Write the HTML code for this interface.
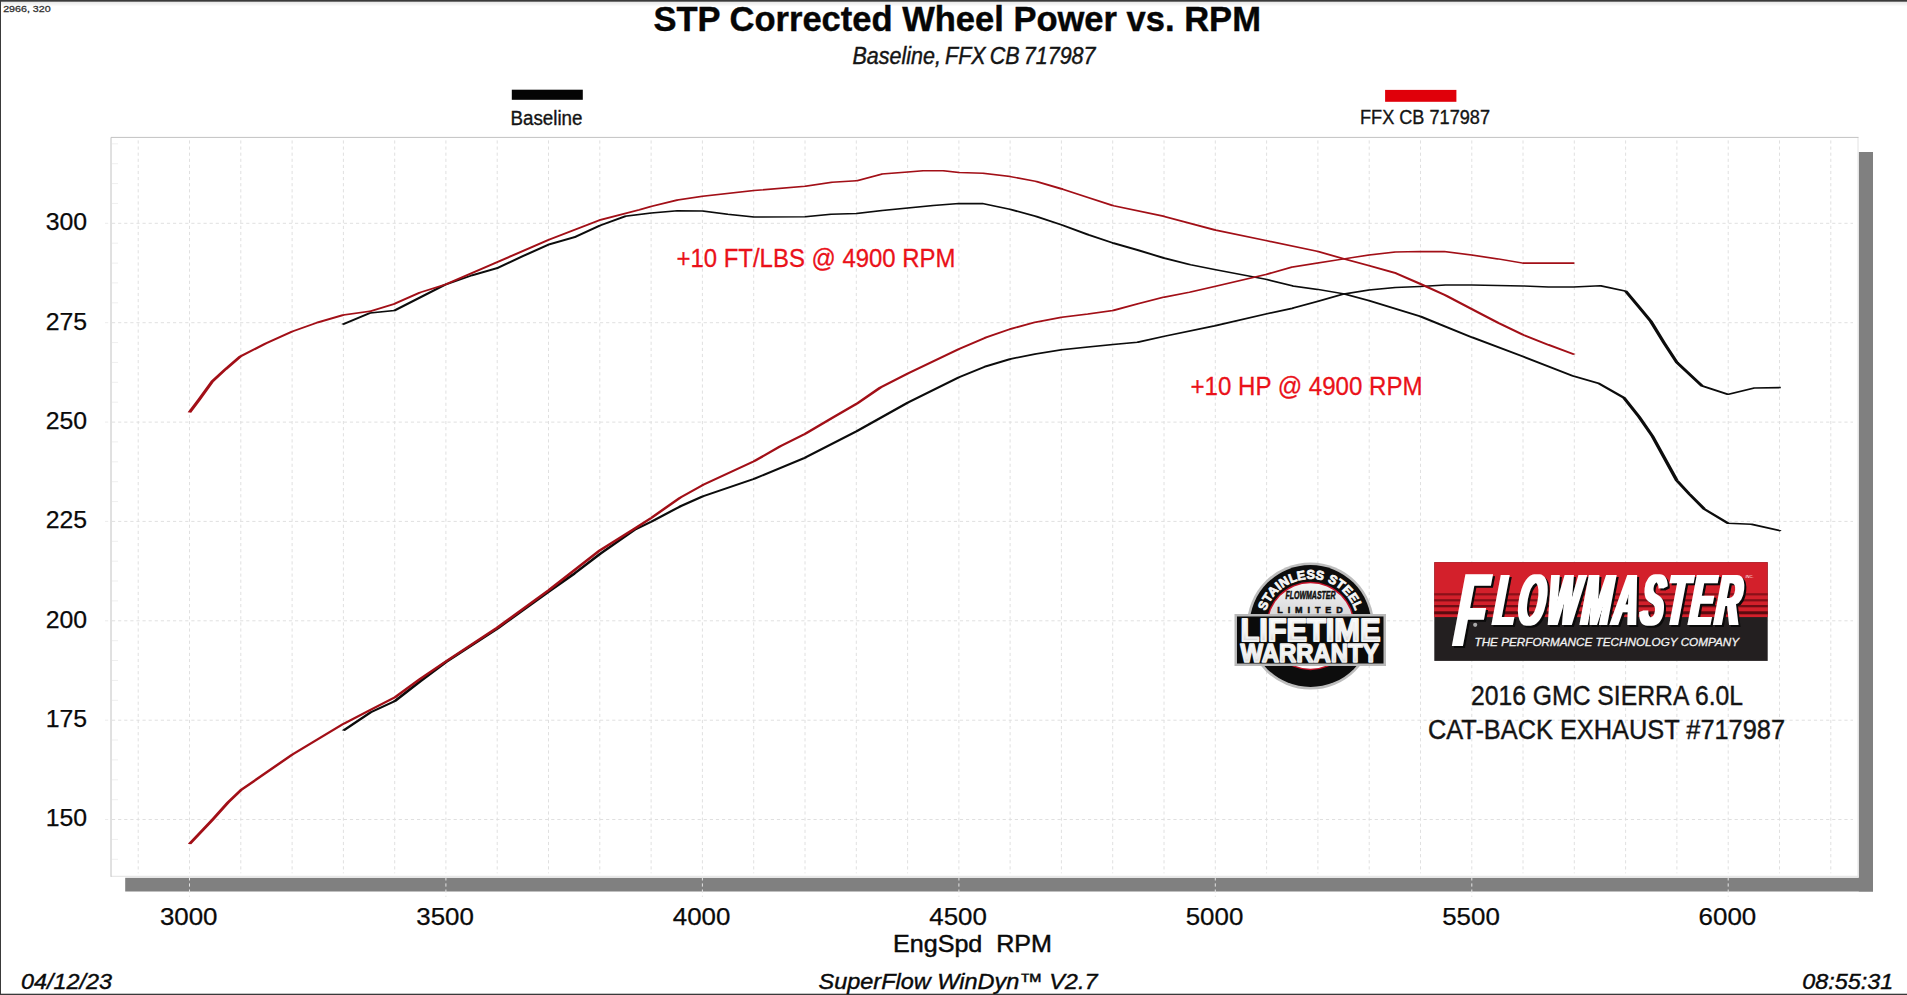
<!DOCTYPE html>
<html lang="en"><head><meta charset="utf-8"><title>STP Corrected Wheel Power vs. RPM</title>
<style>
html,body{margin:0;padding:0;background:#fff;}
body{width:1907px;height:995px;overflow:hidden;font-family:"Liberation Sans",sans-serif;}
svg{display:block;}
text{font-family:"Liberation Sans",sans-serif;}
.lbl{font-size:24.8px;fill:#0a0a0a;stroke:#0a0a0a;stroke-width:0.25;}
.it{font-style:italic;}
.my{fill:#141414;}
.red{fill:#ea1119;stroke:#ea1119;stroke-width:0.3;}
.grid line{stroke:#e0e0e0;stroke-width:1;stroke-dasharray:3.2 2.9;}
</style></head><body>
<svg width="1907" height="995" viewBox="0 0 1907 995">
<defs>
<linearGradient id="topg" x1="0" y1="0" x2="0" y2="1"><stop offset="0" stop-color="#e6e6e6"/><stop offset="1" stop-color="#ffffff"/></linearGradient>
<linearGradient id="silver" x1="0" y1="0" x2="0" y2="1"><stop offset="0" stop-color="#f4f4f4"/><stop offset="0.4" stop-color="#d6d6d8"/><stop offset="1" stop-color="#ffffff"/></linearGradient>
<linearGradient id="chrome" x1="0" y1="0" x2="0" y2="1"><stop offset="0" stop-color="#ffffff"/><stop offset="0.55" stop-color="#f4f4f4"/><stop offset="1" stop-color="#c4c4c4"/></linearGradient>
<filter id="fat" x="-5%" y="-10%" width="112%" height="125%" color-interpolation-filters="sRGB"><feMorphology in="SourceGraphic" operator="dilate" radius="2.1 0" result="a"/><feOffset in="a" dx="2.4" dy="2" result="o"/><feColorMatrix in="o" type="matrix" values="0 0 0 0 0.04  0 0 0 0 0.04  0 0 0 0 0.04  0 0 0 1 0" result="s"/><feMerge><feMergeNode in="s"/><feMergeNode in="a"/></feMerge></filter>
<path id="arc" d="M 1263.3 626 A 47.2 47.2 0 0 1 1357.7 626"/>
</defs>
<rect x="0" y="0" width="1907" height="995" fill="#ffffff"/>
<rect x="0" y="1.5" width="1907" height="5" fill="url(#topg)"/>
<rect x="0" y="0" width="1907" height="1.7" fill="#3a3a3a"/>
<rect x="0" y="0" width="1" height="995" fill="#3a3a3a"/>
<rect x="0" y="993.7" width="1907" height="1.3" fill="#3a3a3a"/>
<rect x="1858.8" y="152" width="14.2" height="739.5" fill="#808080"/>
<rect x="125.2" y="877.8" width="1747.8" height="13.7" fill="#808080"/>
<rect x="111.0" y="137.4" width="1747.0" height="738.9" fill="#ffffff"/>
<path d="M111.0 876.3 L1858.0 876.3 L1858.0 137.4" fill="none" stroke="#e2e2e2" stroke-width="1"/>
<path d="M111.0 876.8 L111.0 137.4 L1858.5 137.4" fill="none" stroke="#c2c2c2" stroke-width="1"/>
<g class="grid">
<line x1="138.2" y1="140.4" x2="138.2" y2="873.3"/>
<line x1="189.5" y1="140.4" x2="189.5" y2="873.3"/>
<line x1="189.5" y1="877.3" x2="189.5" y2="897" style="stroke:#e4e4e4"/>
<line x1="240.8" y1="140.4" x2="240.8" y2="873.3"/>
<line x1="292.1" y1="140.4" x2="292.1" y2="873.3"/>
<line x1="343.4" y1="140.4" x2="343.4" y2="873.3"/>
<line x1="394.7" y1="140.4" x2="394.7" y2="873.3"/>
<line x1="445.9" y1="140.4" x2="445.9" y2="873.3"/>
<line x1="445.9" y1="877.3" x2="445.9" y2="897" style="stroke:#e4e4e4"/>
<line x1="497.2" y1="140.4" x2="497.2" y2="873.3"/>
<line x1="548.5" y1="140.4" x2="548.5" y2="873.3"/>
<line x1="599.8" y1="140.4" x2="599.8" y2="873.3"/>
<line x1="651.1" y1="140.4" x2="651.1" y2="873.3"/>
<line x1="702.4" y1="140.4" x2="702.4" y2="873.3"/>
<line x1="702.4" y1="877.3" x2="702.4" y2="897" style="stroke:#e4e4e4"/>
<line x1="753.7" y1="140.4" x2="753.7" y2="873.3"/>
<line x1="805.0" y1="140.4" x2="805.0" y2="873.3"/>
<line x1="856.3" y1="140.4" x2="856.3" y2="873.3"/>
<line x1="907.6" y1="140.4" x2="907.6" y2="873.3"/>
<line x1="958.9" y1="140.4" x2="958.9" y2="873.3"/>
<line x1="958.9" y1="877.3" x2="958.9" y2="897" style="stroke:#e4e4e4"/>
<line x1="1010.1" y1="140.4" x2="1010.1" y2="873.3"/>
<line x1="1061.4" y1="140.4" x2="1061.4" y2="873.3"/>
<line x1="1112.7" y1="140.4" x2="1112.7" y2="873.3"/>
<line x1="1164.0" y1="140.4" x2="1164.0" y2="873.3"/>
<line x1="1215.3" y1="140.4" x2="1215.3" y2="873.3"/>
<line x1="1215.3" y1="877.3" x2="1215.3" y2="897" style="stroke:#e4e4e4"/>
<line x1="1266.6" y1="140.4" x2="1266.6" y2="873.3"/>
<line x1="1317.9" y1="140.4" x2="1317.9" y2="873.3"/>
<line x1="1369.2" y1="140.4" x2="1369.2" y2="873.3"/>
<line x1="1420.5" y1="140.4" x2="1420.5" y2="873.3"/>
<line x1="1471.8" y1="140.4" x2="1471.8" y2="873.3"/>
<line x1="1471.8" y1="877.3" x2="1471.8" y2="897" style="stroke:#e4e4e4"/>
<line x1="1523.0" y1="140.4" x2="1523.0" y2="873.3"/>
<line x1="1574.3" y1="140.4" x2="1574.3" y2="873.3"/>
<line x1="1625.6" y1="140.4" x2="1625.6" y2="873.3"/>
<line x1="1676.9" y1="140.4" x2="1676.9" y2="873.3"/>
<line x1="1728.2" y1="140.4" x2="1728.2" y2="873.3"/>
<line x1="1728.2" y1="877.3" x2="1728.2" y2="897" style="stroke:#e4e4e4"/>
<line x1="1779.5" y1="140.4" x2="1779.5" y2="873.3"/>
<line x1="1830.8" y1="140.4" x2="1830.8" y2="873.3"/>
<line x1="105.0" y1="819.5" x2="111.0" y2="819.5" style="stroke:#ececec"/>
<line x1="112.0" y1="819.5" x2="1853.0" y2="819.5"/>
<line x1="105.0" y1="720.2" x2="111.0" y2="720.2" style="stroke:#ececec"/>
<line x1="112.0" y1="720.2" x2="1853.0" y2="720.2"/>
<line x1="105.0" y1="620.8" x2="111.0" y2="620.8" style="stroke:#ececec"/>
<line x1="112.0" y1="620.8" x2="1853.0" y2="620.8"/>
<line x1="105.0" y1="521.4" x2="111.0" y2="521.4" style="stroke:#ececec"/>
<line x1="112.0" y1="521.4" x2="1853.0" y2="521.4"/>
<line x1="105.0" y1="422.1" x2="111.0" y2="422.1" style="stroke:#ececec"/>
<line x1="112.0" y1="422.1" x2="1853.0" y2="422.1"/>
<line x1="105.0" y1="322.7" x2="111.0" y2="322.7" style="stroke:#ececec"/>
<line x1="112.0" y1="322.7" x2="1853.0" y2="322.7"/>
<line x1="105.0" y1="223.3" x2="111.0" y2="223.3" style="stroke:#ececec"/>
<line x1="112.0" y1="223.3" x2="1853.0" y2="223.3"/>
</g>
<g stroke="#efefef" stroke-width="1">
<line x1="112.0" y1="859.3" x2="118.0" y2="859.3"/>
<line x1="112.0" y1="839.4" x2="118.0" y2="839.4"/>
<line x1="112.0" y1="799.7" x2="118.0" y2="799.7"/>
<line x1="112.0" y1="779.8" x2="118.0" y2="779.8"/>
<line x1="112.0" y1="759.9" x2="118.0" y2="759.9"/>
<line x1="112.0" y1="740.0" x2="118.0" y2="740.0"/>
<line x1="112.0" y1="700.3" x2="118.0" y2="700.3"/>
<line x1="112.0" y1="680.4" x2="118.0" y2="680.4"/>
<line x1="112.0" y1="660.5" x2="118.0" y2="660.5"/>
<line x1="112.0" y1="640.7" x2="118.0" y2="640.7"/>
<line x1="112.0" y1="600.9" x2="118.0" y2="600.9"/>
<line x1="112.0" y1="581.0" x2="118.0" y2="581.0"/>
<line x1="112.0" y1="561.2" x2="118.0" y2="561.2"/>
<line x1="112.0" y1="541.3" x2="118.0" y2="541.3"/>
<line x1="112.0" y1="501.6" x2="118.0" y2="501.6"/>
<line x1="112.0" y1="481.7" x2="118.0" y2="481.7"/>
<line x1="112.0" y1="461.8" x2="118.0" y2="461.8"/>
<line x1="112.0" y1="441.9" x2="118.0" y2="441.9"/>
<line x1="112.0" y1="402.2" x2="118.0" y2="402.2"/>
<line x1="112.0" y1="382.3" x2="118.0" y2="382.3"/>
<line x1="112.0" y1="362.4" x2="118.0" y2="362.4"/>
<line x1="112.0" y1="342.6" x2="118.0" y2="342.6"/>
<line x1="112.0" y1="302.8" x2="118.0" y2="302.8"/>
<line x1="112.0" y1="282.9" x2="118.0" y2="282.9"/>
<line x1="112.0" y1="263.1" x2="118.0" y2="263.1"/>
<line x1="112.0" y1="243.2" x2="118.0" y2="243.2"/>
<line x1="112.0" y1="203.4" x2="118.0" y2="203.4"/>
<line x1="112.0" y1="183.6" x2="118.0" y2="183.6"/>
<line x1="112.0" y1="163.7" x2="118.0" y2="163.7"/>
<line x1="112.0" y1="143.8" x2="118.0" y2="143.8"/>
</g>
<polyline transform="scale(2.4,1)" points="142.71,324.5 154.17,313.0 164.38,310.5 175.00,297.5 185.83,284.3 196.46,275.5 207.29,268.0 217.71,256.3 228.67,244.5 239.58,237.0 250.00,225.5 260.42,216.3 271.38,213.0 282.29,210.8 292.75,211.0 303.17,214.3 314.12,217.0 335.50,216.8 346.25,214.3 356.88,213.5 367.58,210.4 378.25,208.0 388.83,205.4 399.58,203.6 409.58,203.6 415.04,206.4 421.00,209.4 431.67,216.4 442.50,225.0 453.33,234.6 463.75,243.0 473.96,250.0 484.92,258.0 495.83,264.6 506.29,269.6 527.67,279.4 538.62,285.9 549.04,289.4 560.00,293.9 570.42,300.7 591.79,316.4 613.17,337.2 634.58,356.5 655.67,376.2 666.12,383.4 676.63,397.7 682.92,416.8 688.50,436.1 698.67,480.5 703.88,494.0 710.17,509.1 720.00,523.3 729.75,524.2 742.00,530.9" fill="none" stroke="#0c0c0c" stroke-width="1.55" stroke-linejoin="round" stroke-linecap="butt"/>
<polyline transform="scale(2.4,1)" points="143.04,730.6 154.25,712.6 164.38,701.3 175.08,681.3 185.83,662.0 207.29,628.5 228.67,591.5 239.08,574.0 250.04,553.9 264.67,529.4 271.54,521.4 283.42,506.4 292.79,496.4 314.17,478.9 335.54,457.6 356.92,431.3 378.33,402.5 399.58,377.2 410.58,366.5 421.00,359.0 431.42,354.0 442.38,349.7 453.33,347.0 463.75,344.4 473.96,342.2 484.92,336.4 506.29,325.7 527.67,313.9 538.62,308.2 549.04,301.4 560.00,293.9 570.42,290.1 581.38,287.6 591.79,286.4 602.25,285.1 613.17,284.9 634.58,285.9 645.17,286.9 655.67,286.9 666.83,285.7 677.33,291.1 682.92,307.0 687.83,321.3 693.42,343.1 698.67,362.4 709.17,385.9 720.00,394.3 731.17,387.9 742.00,387.6" fill="none" stroke="#0c0c0c" stroke-width="1.55" stroke-linejoin="round" stroke-linecap="butt"/>
<polyline transform="scale(2.4,1)" points="78.92,412.4 83.00,399.5 88.46,381.4 93.92,369.3 100.29,356.2 110.67,343.5 121.75,331.5 132.29,322.5 143.04,315.0 154.17,311.3 164.38,303.8 175.00,292.5 185.83,284.3 207.29,262.0 228.67,239.8 250.00,220.0 266.67,209.6 271.38,206.3 282.29,200.0 292.75,196.3 314.12,190.5 335.50,186.3 346.67,182.3 356.88,180.8 367.42,174.1 378.25,172.0 384.62,170.8 393.04,170.8 399.58,172.6 409.58,173.2 421.00,176.6 431.67,181.4 442.50,189.0 453.33,197.5 463.75,205.6 484.92,216.3 506.29,230.0 527.67,240.6 549.04,251.4 560.00,258.9 570.42,265.6 581.38,273.0 591.79,283.9 602.25,295.2 613.17,309.0 624.17,322.7 634.58,334.7 645.00,344.7 656.00,354.5" fill="none" stroke="#a20f17" stroke-width="1.55" stroke-linejoin="round" stroke-linecap="butt"/>
<polyline transform="scale(2.4,1)" points="78.96,844.0 88.54,819.7 95.08,802.3 100.33,790.2 121.75,754.6 143.04,723.9 154.25,710.1 164.38,697.6 175.08,678.8 185.83,661.3 207.29,627.5 228.67,590.2 250.04,550.2 264.67,528.2 271.54,517.6 283.42,497.6 292.79,485.1 314.17,461.3 325.12,446.3 335.54,433.8 347.04,417.5 356.92,403.8 366.83,387.5 378.25,373.5 399.58,349.0 410.58,337.7 421.00,329.0 431.42,322.2 442.38,317.2 453.33,314.0 463.75,310.5 473.96,303.9 484.92,297.2 495.83,292.1 506.29,286.4 527.67,274.4 538.62,266.9 549.04,263.1 560.00,258.9 570.42,255.1 581.38,252.1 591.79,251.6 601.67,251.6 613.17,255.1 624.17,258.9 634.58,263.1 656.00,263.1" fill="none" stroke="#a20f17" stroke-width="1.55" stroke-linejoin="round" stroke-linecap="butt"/>
<text x="3.2" y="11.8" font-size="9.3" textLength="47.5" lengthAdjust="spacingAndGlyphs" fill="#333" stroke="#333" stroke-width="0.3">2966, 320</text>
<text x="653.4" y="30.9" font-size="34.3" textLength="607.5" lengthAdjust="spacingAndGlyphs" font-weight="bold" fill="#060606" stroke="#060606" stroke-width="0.4">STP Corrected Wheel Power vs. RPM</text>
<text x="852.5" y="64.2" class="it my" font-size="24.3" textLength="243" lengthAdjust="spacingAndGlyphs" stroke="#141414" stroke-width="0.45" word-spacing="-2">Baseline, FFX CB 717987</text>
<rect x="511.8" y="89.7" width="71" height="10.1" fill="#050505"/>
<text x="510.5" y="125.4" class="my" font-size="19.6" textLength="72" lengthAdjust="spacingAndGlyphs" stroke="#141414" stroke-width="0.35">Baseline</text>
<rect x="1385.1" y="89.9" width="71.3" height="11.9" fill="#e0000a"/>
<text x="1360" y="123.8" class="my" font-size="19.6" textLength="130" lengthAdjust="spacingAndGlyphs" stroke="#141414" stroke-width="0.35">FFX CB 717987</text>
<text x="87.0" y="826.3" class="lbl" text-anchor="end">150</text>
<text x="87.0" y="727.0" class="lbl" text-anchor="end">175</text>
<text x="87.0" y="627.6" class="lbl" text-anchor="end">200</text>
<text x="87.0" y="528.2" class="lbl" text-anchor="end">225</text>
<text x="87.0" y="428.9" class="lbl" text-anchor="end">250</text>
<text x="87.0" y="329.5" class="lbl" text-anchor="end">275</text>
<text x="87.0" y="230.1" class="lbl" text-anchor="end">300</text>
<text x="188.7" y="925.4" class="lbl" text-anchor="middle" textLength="57.6" lengthAdjust="spacingAndGlyphs">3000</text>
<text x="445.1" y="925.4" class="lbl" text-anchor="middle" textLength="57.6" lengthAdjust="spacingAndGlyphs">3500</text>
<text x="701.6" y="925.4" class="lbl" text-anchor="middle" textLength="57.6" lengthAdjust="spacingAndGlyphs">4000</text>
<text x="958.1" y="925.4" class="lbl" text-anchor="middle" textLength="57.6" lengthAdjust="spacingAndGlyphs">4500</text>
<text x="1214.5" y="925.4" class="lbl" text-anchor="middle" textLength="57.6" lengthAdjust="spacingAndGlyphs">5000</text>
<text x="1471.0" y="925.4" class="lbl" text-anchor="middle" textLength="57.6" lengthAdjust="spacingAndGlyphs">5500</text>
<text x="1727.4" y="925.4" class="lbl" text-anchor="middle" textLength="57.6" lengthAdjust="spacingAndGlyphs">6000</text>
<text x="893" y="951.9" font-size="23.7" textLength="159" lengthAdjust="spacingAndGlyphs" fill="#0a0a0a" stroke="#0a0a0a" stroke-width="0.45">EngSpd&#160;&#160;RPM</text>
<text x="21" y="989.0" class="it" font-size="22.0" textLength="91" lengthAdjust="spacingAndGlyphs" fill="#0a0a0a" stroke="#0a0a0a" stroke-width="0.4">04/12/23</text>
<text x="818.5" y="989.0" class="it" font-size="22.3" textLength="279" lengthAdjust="spacingAndGlyphs" fill="#0a0a0a" stroke="#0a0a0a" stroke-width="0.4">SuperFlow WinDyn&#8482; V2.7</text>
<text x="1893.2" y="989.0" class="it" text-anchor="end" font-size="22.0" textLength="91" lengthAdjust="spacingAndGlyphs" fill="#0a0a0a" stroke="#0a0a0a" stroke-width="0.4">08:55:31</text>
<text x="676.5" y="266.8" class="red" font-size="26" textLength="279" lengthAdjust="spacingAndGlyphs">+10 FT/LBS @ 4900 RPM</text>
<text x="1190.5" y="394.6" class="red" font-size="26" textLength="232" lengthAdjust="spacingAndGlyphs">+10 HP @ 4900 RPM</text>
<text x="1471" y="704.7" class="my" font-size="27" textLength="272" lengthAdjust="spacingAndGlyphs" stroke="#141414" stroke-width="0.4">2016 GMC SIERRA 6.0L</text>
<text x="1428" y="739" class="my" font-size="27" textLength="357" lengthAdjust="spacingAndGlyphs" stroke="#141414" stroke-width="0.4">CAT-BACK EXHAUST #717987</text>
<g>
<circle cx="1310.5" cy="626" r="63.6" fill="#bdbdbd"/>
<circle cx="1310.5" cy="626" r="61" fill="#0d0d0d"/>
<circle cx="1310.5" cy="626" r="44.2" fill="#c4122a"/>
<circle cx="1310.5" cy="626" r="42.8" fill="url(#silver)"/>
<text font-size="12.6" font-weight="bold" fill="#f6f6f6" letter-spacing="0.25" stroke="#f6f6f6" stroke-width="0.8"><textPath href="#arc" startOffset="50%" text-anchor="middle">STAINLESS STEEL</textPath></text>
<text x="1310.5" y="599" text-anchor="middle" font-size="11" font-weight="bold" font-style="italic" fill="#111" stroke="#111" stroke-width="0.55" textLength="50" lengthAdjust="spacingAndGlyphs">FLOWMASTER</text>
<text x="1310.0" y="612.6" text-anchor="middle" font-size="9" font-weight="bold" fill="#111" stroke="#111" stroke-width="0.5" textLength="65.5" lengthAdjust="spacing">LIMITED</text>
<rect x="1234.5" y="614" width="151.5" height="52" fill="#b9b9b9"/>
<rect x="1237" y="616.5" width="146.5" height="47" fill="#0b0b0b"/>
<text x="1240.4" y="641.2" font-size="30.5" font-weight="bold" fill="url(#chrome)" stroke="#f1f1f1" stroke-width="1.9" stroke-linejoin="round" textLength="140" lengthAdjust="spacingAndGlyphs">LIFETIME</text>
<text x="1240.6" y="662.3" font-size="25" font-weight="bold" fill="url(#chrome)" stroke="#eeeeee" stroke-width="1.6" stroke-linejoin="round" textLength="138" lengthAdjust="spacingAndGlyphs">WARRANTY</text>
</g>
<g>
<rect x="1434.3" y="562.2" width="333.4" height="98.7" fill="#231f20"/>
<rect x="1434.3" y="562.2" width="333.4" height="54.9" fill="#d3202b"/>
<rect x="1434.3" y="593.2" width="333.4" height="2.2" fill="#8a1119"/>
<rect x="1434.3" y="599.2" width="333.4" height="2.2" fill="#7f0f17"/>
<rect x="1434.3" y="605" width="333.4" height="2.3" fill="#6f0d14"/>
<rect x="1434.3" y="611.3" width="333.4" height="3" fill="#5a0b10"/>
<g filter="url(#fat)"><g transform="translate(0,0)" fill="#ffffff" font-weight="bold" font-style="italic">
<text transform="translate(1453,646.2) skewX(-5.6) scale(0.47,1)"><tspan font-size="104.4">F</tspan><tspan font-size="72.6" dx="16.6" dy="-20.8" letter-spacing="6">LOWMASTER</tspan></text>
</g></g>
<text x="1745.5" y="578" font-size="4" font-style="italic" fill="#fff">INC.</text>
<text x="1474.5" y="646.3" font-size="11.8" font-style="italic" fill="#f2f2f2" stroke="#f2f2f2" stroke-width="0.3" textLength="264.5" lengthAdjust="spacingAndGlyphs">THE PERFORMANCE TECHNOLOGY COMPANY</text>
<circle cx="1475.2" cy="624.8" r="2.1" fill="#a9a9a9"/>
</g>
</svg></body></html>
